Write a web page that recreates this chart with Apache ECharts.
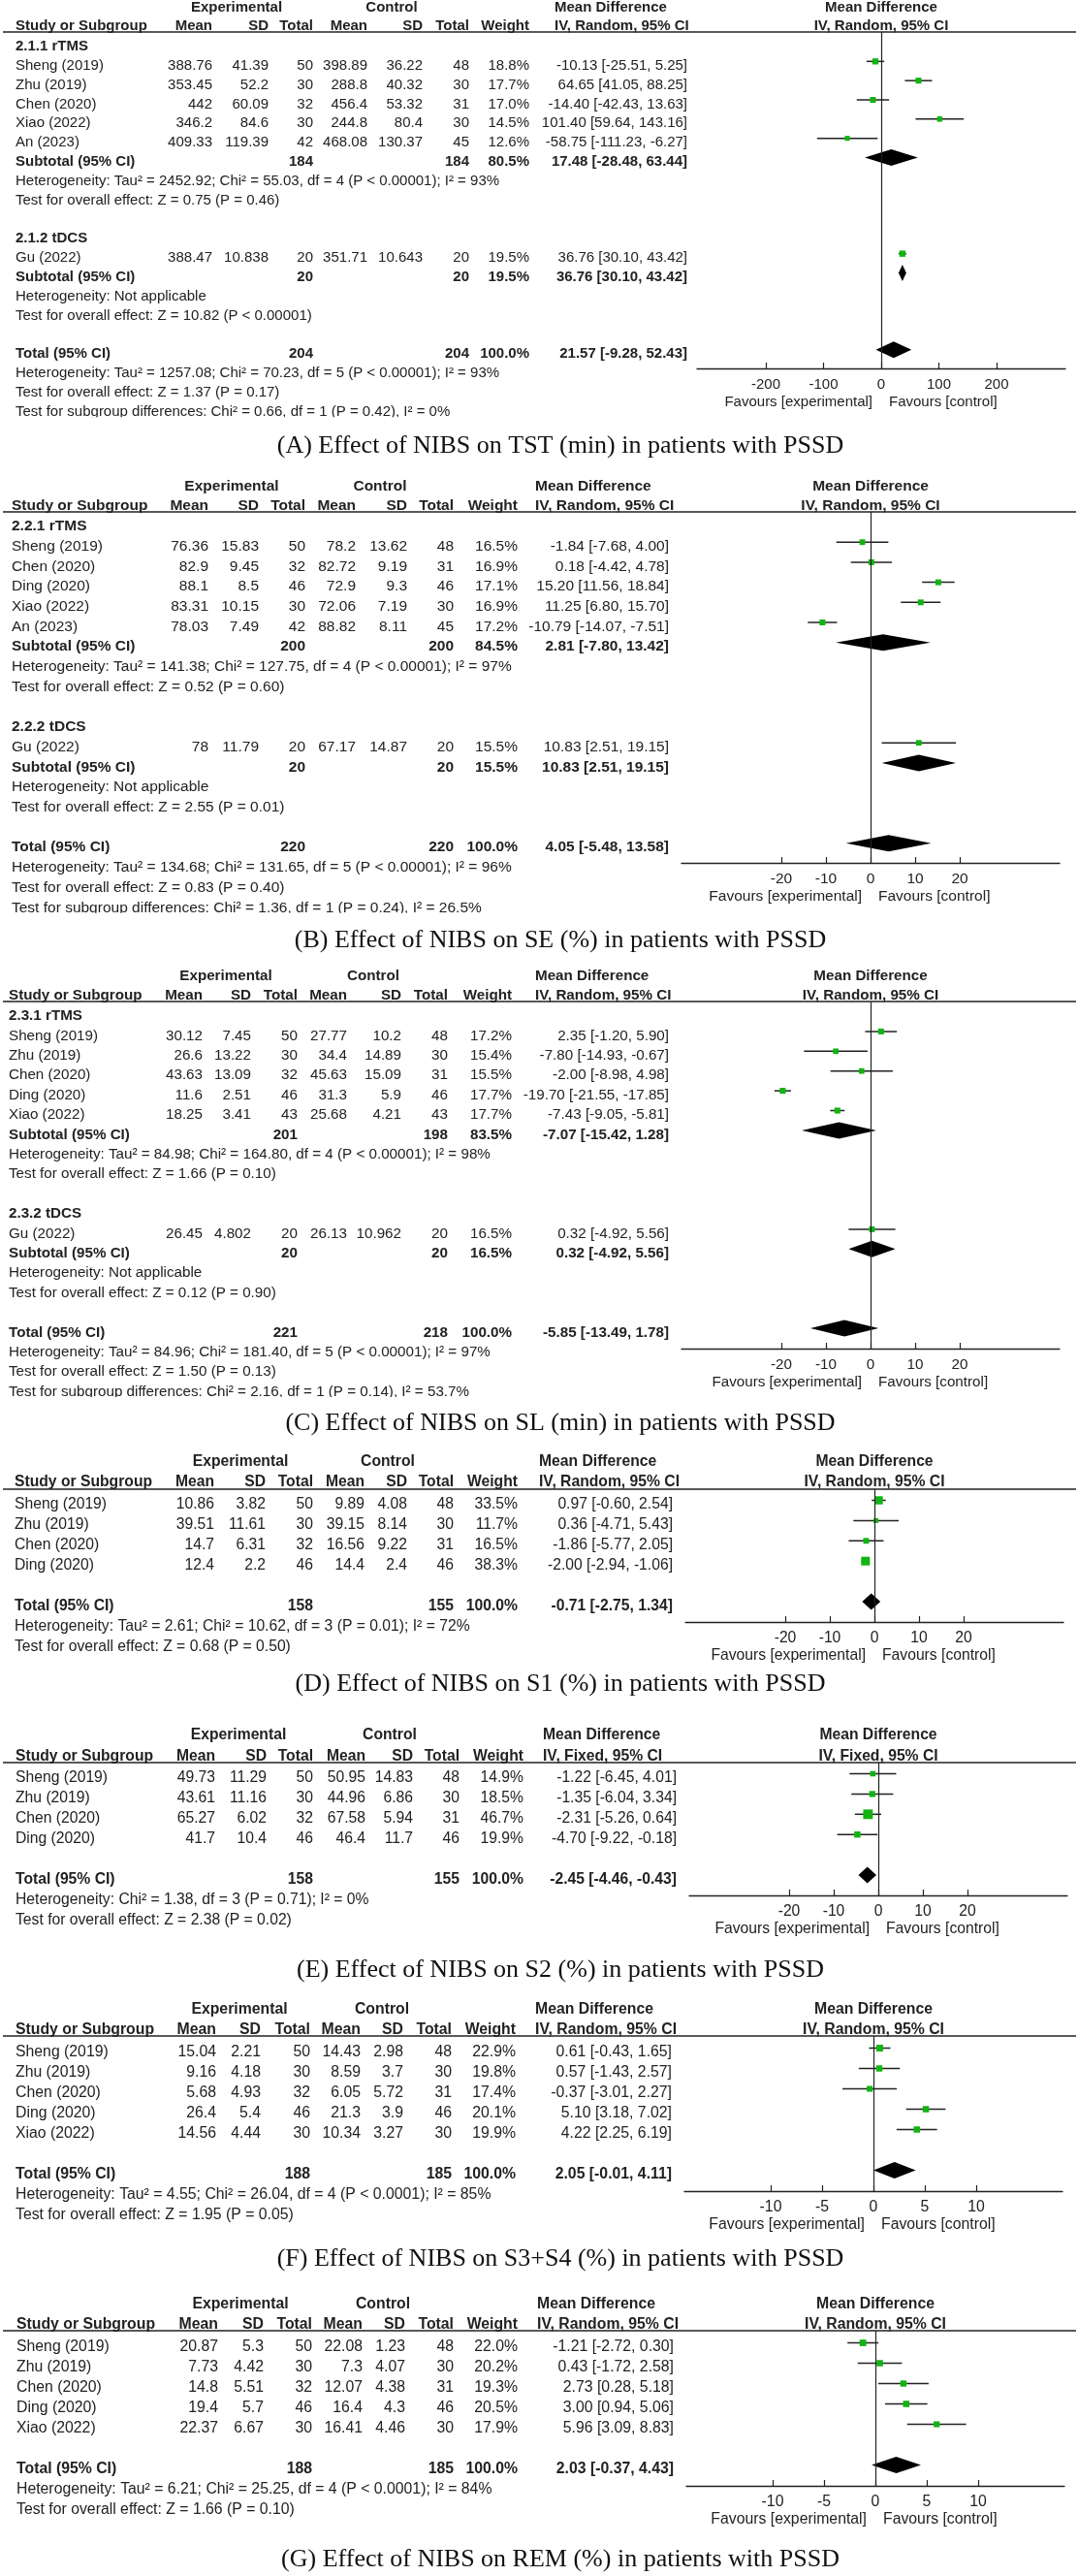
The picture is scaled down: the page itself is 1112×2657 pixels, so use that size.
<!DOCTYPE html>
<html>
<head>
<meta charset="utf-8">
<script src="https://cdn.jsdelivr.net/npm/echarts@6/dist/echarts.min.js"></script>
<style>
  html, body { margin: 0; padding: 0; background: #fff; }
  #main { width: 1112px; height: 2657px; }
</style>
</head>
<body>
<div id="main"></div>
<script>
// ---------- (A) TST ----------
var tstStudy = ['Sheng (2019)', 'Zhu (2019)', 'Chen (2020)', 'Xiao (2022)', 'An (2023)', 'Gu (2022)'];
var tstGroup = [0, 0, 0, 0, 0, 1];
var tstExpMean = [388.76, 353.45, 442, 346.2, 409.33, 388.47];
var tstExpSd = [41.39, 52.2, 60.09, 84.6, 119.39, 10.838];
var tstExpN = [50, 30, 32, 30, 42, 20];
var tstCtlMean = [398.89, 288.8, 456.4, 244.8, 468.08, 351.71];
var tstCtlSd = [36.22, 40.32, 53.32, 80.4, 130.37, 10.643];
var tstCtlN = [48, 30, 31, 30, 45, 20];
var tstWeight = [18.8, 17.7, 17.0, 14.5, 12.6, 19.5];
var tstMd = [-10.13, 64.65, -14.40, 101.40, -58.75, 36.76];
var tstLo = [-25.51, 41.05, -42.43, 59.64, -111.23, 30.10];
var tstHi = [5.25, 88.25, 13.63, 143.16, -6.27, 43.42];
var tstSubName = ['2.1.1 rTMS', '2.1.2 tDCS'];
var tstSubExpN = [184, 20];
var tstSubCtlN = [184, 20];
var tstSubWeight = [80.5, 19.5];
var tstSubMd = [17.48, 36.76];
var tstSubLo = [-28.48, 30.10];
var tstSubHi = [63.44, 43.42];
var tstSubHet = ['Heterogeneity: Tau² = 2452.92; Chi² = 55.03, df = 4 (P < 0.00001); I² = 93%', 'Heterogeneity: Not applicable'];
var tstSubTest = ['Test for overall effect: Z = 0.75 (P = 0.46)', 'Test for overall effect: Z = 10.82 (P < 0.00001)'];
var tstTotal = [21.57, -9.28, 52.43];
var tstTotalN = [204, 204];
var tstNotes = ['Heterogeneity: Tau² = 1257.08; Chi² = 70.23, df = 5 (P < 0.00001); I² = 93%',
  'Test for overall effect: Z = 1.37 (P = 0.17)',
  'Test for subgroup differences: Chi² = 0.66, df = 1 (P = 0.42), I² = 0%'];
var tstTicks = [-200, -100, 0, 100, 200];

// ---------- (B) SE ----------
var seStudy = ['Sheng (2019)', 'Chen (2020)', 'Ding (2020)', 'Xiao (2022)', 'An (2023)', 'Gu (2022)'];
var seGroup = [0, 0, 0, 0, 0, 1];
var seExpMean = [76.36, 82.9, 88.1, 83.31, 78.03, 78];
var seExpSd = [15.83, 9.45, 8.5, 10.15, 7.49, 11.79];
var seExpN = [50, 32, 46, 30, 42, 20];
var seCtlMean = [78.2, 82.72, 72.9, 72.06, 88.82, 67.17];
var seCtlSd = [13.62, 9.19, 9.3, 7.19, 8.11, 14.87];
var seCtlN = [48, 31, 46, 30, 45, 20];
var seWeight = [16.5, 16.9, 17.1, 16.9, 17.2, 15.5];
var seMd = [-1.84, 0.18, 15.20, 11.25, -10.79, 10.83];
var seLo = [-7.68, -4.42, 11.56, 6.80, -14.07, 2.51];
var seHi = [4.00, 4.78, 18.84, 15.70, -7.51, 19.15];
var seSubName = ['2.2.1 rTMS', '2.2.2 tDCS'];
var seSubExpN = [200, 20];
var seSubCtlN = [200, 20];
var seSubWeight = [84.5, 15.5];
var seSubMd = [2.81, 10.83];
var seSubLo = [-7.80, 2.51];
var seSubHi = [13.42, 19.15];
var seSubHet = ['Heterogeneity: Tau² = 141.38; Chi² = 127.75, df = 4 (P < 0.00001); I² = 97%', 'Heterogeneity: Not applicable'];
var seSubTest = ['Test for overall effect: Z = 0.52 (P = 0.60)', 'Test for overall effect: Z = 2.55 (P = 0.01)'];
var seTotal = [4.05, -5.48, 13.58];
var seTotalN = [220, 220];
var seNotes = ['Heterogeneity: Tau² = 134.68; Chi² = 131.65, df = 5 (P < 0.00001); I² = 96%',
  'Test for overall effect: Z = 0.83 (P = 0.40)',
  'Test for subgroup differences: Chi² = 1.36, df = 1 (P = 0.24), I² = 26.5%'];
var seTicks = [-20, -10, 0, 10, 20];

// ---------- (C) SL ----------
var slStudy = ['Sheng (2019)', 'Zhu (2019)', 'Chen (2020)', 'Ding (2020)', 'Xiao (2022)', 'Gu (2022)'];
var slGroup = [0, 0, 0, 0, 0, 1];
var slExpMean = [30.12, 26.6, 43.63, 11.6, 18.25, 26.45];
var slExpSd = [7.45, 13.22, 13.09, 2.51, 3.41, 4.802];
var slExpN = [50, 30, 32, 46, 43, 20];
var slCtlMean = [27.77, 34.4, 45.63, 31.3, 25.68, 26.13];
var slCtlSd = [10.2, 14.89, 15.09, 5.9, 4.21, 10.962];
var slCtlN = [48, 30, 31, 46, 43, 20];
var slWeight = [17.2, 15.4, 15.5, 17.7, 17.7, 16.5];
var slMd = [2.35, -7.80, -2.00, -19.70, -7.43, 0.32];
var slLo = [-1.20, -14.93, -8.98, -21.55, -9.05, -4.92];
var slHi = [5.90, -0.67, 4.98, -17.85, -5.81, 5.56];
var slSubName = ['2.3.1 rTMS', '2.3.2 tDCS'];
var slSubExpN = [201, 20];
var slSubCtlN = [198, 20];
var slSubWeight = [83.5, 16.5];
var slSubMd = [-7.07, 0.32];
var slSubLo = [-15.42, -4.92];
var slSubHi = [1.28, 5.56];
var slSubHet = ['Heterogeneity: Tau² = 84.98; Chi² = 164.80, df = 4 (P < 0.00001); I² = 98%', 'Heterogeneity: Not applicable'];
var slSubTest = ['Test for overall effect: Z = 1.66 (P = 0.10)', 'Test for overall effect: Z = 0.12 (P = 0.90)'];
var slTotal = [-5.85, -13.49, 1.78];
var slTotalN = [221, 218];
var slNotes = ['Heterogeneity: Tau² = 84.96; Chi² = 181.40, df = 5 (P < 0.00001); I² = 97%',
  'Test for overall effect: Z = 1.50 (P = 0.13)',
  'Test for subgroup differences: Chi² = 2.16, df = 1 (P = 0.14), I² = 53.7%'];
var slTicks = [-20, -10, 0, 10, 20];

// ---------- (D) S1 ----------
var s1Study = ['Sheng (2019)', 'Zhu (2019)', 'Chen (2020)', 'Ding (2020)'];
var s1ExpMean = [10.86, 39.51, 14.7, 12.4];
var s1ExpSd = [3.82, 11.61, 6.31, 2.2];
var s1ExpN = [50, 30, 32, 46];
var s1CtlMean = [9.89, 39.15, 16.56, 14.4];
var s1CtlSd = [4.08, 8.14, 9.22, 2.4];
var s1CtlN = [48, 30, 31, 46];
var s1Weight = [33.5, 11.7, 16.5, 38.3];
var s1Md = [0.97, 0.36, -1.86, -2.00];
var s1Lo = [-0.60, -4.71, -5.77, -2.94];
var s1Hi = [2.54, 5.43, 2.05, -1.06];
var s1Total = [-0.71, -2.75, 1.34];
var s1TotalN = [158, 155];
var s1Notes = ['Heterogeneity: Tau² = 2.61; Chi² = 10.62, df = 3 (P = 0.01); I² = 72%',
  'Test for overall effect: Z = 0.68 (P = 0.50)'];
var s1Ticks = [-20, -10, 0, 10, 20];

// ---------- (E) S2 ----------
var s2Study = ['Sheng (2019)', 'Zhu (2019)', 'Chen (2020)', 'Ding (2020)'];
var s2ExpMean = [49.73, 43.61, 65.27, 41.7];
var s2ExpSd = [11.29, 11.16, 6.02, 10.4];
var s2ExpN = [50, 30, 32, 46];
var s2CtlMean = [50.95, 44.96, 67.58, 46.4];
var s2CtlSd = [14.83, 6.86, 5.94, 11.7];
var s2CtlN = [48, 30, 31, 46];
var s2Weight = [14.9, 18.5, 46.7, 19.9];
var s2Md = [-1.22, -1.35, -2.31, -4.70];
var s2Lo = [-6.45, -6.04, -5.26, -9.22];
var s2Hi = [4.01, 3.34, 0.64, -0.18];
var s2Total = [-2.45, -4.46, -0.43];
var s2TotalN = [158, 155];
var s2Notes = ['Heterogeneity: Chi² = 1.38, df = 3 (P = 0.71); I² = 0%',
  'Test for overall effect: Z = 2.38 (P = 0.02)'];
var s2Ticks = [-20, -10, 0, 10, 20];

// ---------- (F) S3+S4 ----------
var s34Study = ['Sheng (2019)', 'Zhu (2019)', 'Chen (2020)', 'Ding (2020)', 'Xiao (2022)'];
var s34ExpMean = [15.04, 9.16, 5.68, 26.4, 14.56];
var s34ExpSd = [2.21, 4.18, 4.93, 5.4, 4.44];
var s34ExpN = [50, 30, 32, 46, 30];
var s34CtlMean = [14.43, 8.59, 6.05, 21.3, 10.34];
var s34CtlSd = [2.98, 3.7, 5.72, 3.9, 3.27];
var s34CtlN = [48, 30, 31, 46, 30];
var s34Weight = [22.9, 19.8, 17.4, 20.1, 19.9];
var s34Md = [0.61, 0.57, -0.37, 5.10, 4.22];
var s34Lo = [-0.43, -1.43, -3.01, 3.18, 2.25];
var s34Hi = [1.65, 2.57, 2.27, 7.02, 6.19];
var s34Total = [2.05, -0.01, 4.11];
var s34TotalN = [188, 185];
var s34Notes = ['Heterogeneity: Tau² = 4.55; Chi² = 26.04, df = 4 (P < 0.0001); I² = 85%',
  'Test for overall effect: Z = 1.95 (P = 0.05)'];
var s34Ticks = [-10, -5, 0, 5, 10];

// ---------- (G) REM ----------
var remStudy = ['Sheng (2019)', 'Zhu (2019)', 'Chen (2020)', 'Ding (2020)', 'Xiao (2022)'];
var remExpMean = [20.87, 7.73, 14.8, 19.4, 22.37];
var remExpSd = [5.3, 4.42, 5.51, 5.7, 6.67];
var remExpN = [50, 30, 32, 46, 30];
var remCtlMean = [22.08, 7.3, 12.07, 16.4, 16.41];
var remCtlSd = [1.23, 4.07, 4.38, 4.3, 4.46];
var remCtlN = [48, 30, 31, 46, 30];
var remWeight = [22.0, 20.2, 19.3, 20.5, 17.9];
var remMd = [-1.21, 0.43, 2.73, 3.00, 5.96];
var remLo = [-2.72, -1.72, 0.28, 0.94, 3.09];
var remHi = [0.30, 2.58, 5.18, 5.06, 8.83];
var remTotal = [2.03, -0.37, 4.43];
var remTotalN = [188, 185];
var remNotes = ['Heterogeneity: Tau² = 6.21; Chi² = 25.25, df = 4 (P < 0.0001); I² = 84%',
  'Test for overall effect: Z = 1.66 (P = 0.10)'];
var remTicks = [-10, -5, 0, 5, 10];

// ---------- page layout ----------
var SANS = '"Liberation Sans", Arial, sans-serif';
var SERIF = '"Liberation Serif", "Times New Roman", serif';
var INK = '#222';
var GREEN = '#12b312';

function pack(study, group, em, es, en, cm, cs, cn, w, md, lo, hi, sub, total, totalN, notes, ticks) {
  return { study: study, group: group, em: em, es: es, en: en, cm: cm, cs: cs, cn: cn, w: w,
    md: md, lo: lo, hi: hi, sub: sub, total: total, totalN: totalN, notes: notes, ticks: ticks };
}

var panels = [
  { d: pack(tstStudy, tstGroup, tstExpMean, tstExpSd, tstExpN, tstCtlMean, tstCtlSd, tstCtlN, tstWeight, tstMd, tstLo, tstHi,
      { name: tstSubName, en: tstSubExpN, cn: tstSubCtlN, w: tstSubWeight, md: tstSubMd, lo: tstSubLo, hi: tstSubHi, het: tstSubHet, test: tstSubTest },
      tstTotal, tstTotalN, tstNotes, tstTicks),
    caption: '(A) Effect of NIBS on TST (min) in patients with PSSD', method: 'IV, Random, 95% CI',
    font: 15, hdr1: 8, hdr2: 27, line: 33, row0: 48, step: 19.83, axisY: 380, capY: 460, clip: true,
    cols: [16, 219, 277, 323, 379, 436, 484, 546, 709], expC: 244, ctlC: 404, mdL: 572, zero: 909, ppu: 0.595, half: 190 },
  { d: pack(seStudy, seGroup, seExpMean, seExpSd, seExpN, seCtlMean, seCtlSd, seCtlN, seWeight, seMd, seLo, seHi,
      { name: seSubName, en: seSubExpN, cn: seSubCtlN, w: seSubWeight, md: seSubMd, lo: seSubLo, hi: seSubHi, het: seSubHet, test: seSubTest },
      seTotal, seTotalN, seNotes, seTicks),
    caption: '(B) Effect of NIBS on SE (%) in patients with PSSD', method: 'IV, Random, 95% CI',
    font: 15.5, hdr1: 502, hdr2: 522, line: 528, row0: 543, step: 20.7, axisY: 890, capY: 970, clip: true,
    cols: [12, 215, 267, 315, 367, 420, 468, 534, 690], expC: 239, ctlC: 392, mdL: 552, zero: 898, ppu: 4.6, half: 195 },
  { d: pack(slStudy, slGroup, slExpMean, slExpSd, slExpN, slCtlMean, slCtlSd, slCtlN, slWeight, slMd, slLo, slHi,
      { name: slSubName, en: slSubExpN, cn: slSubCtlN, w: slSubWeight, md: slSubMd, lo: slSubLo, hi: slSubHi, het: slSubHet, test: slSubTest },
      slTotal, slTotalN, slNotes, slTicks),
    caption: '(C) Effect of NIBS on SL (min) in patients with PSSD', method: 'IV, Random, 95% CI',
    font: 15.2, hdr1: 1007, hdr2: 1027, line: 1033, row0: 1048, step: 20.4, axisY: 1391, capY: 1468, clip: true,
    cols: [9, 209, 259, 307, 358, 414, 462, 528, 690], expC: 233, ctlC: 385, mdL: 552, zero: 898, ppu: 4.6, half: 195 },
  { d: pack(s1Study, null, s1ExpMean, s1ExpSd, s1ExpN, s1CtlMean, s1CtlSd, s1CtlN, s1Weight, s1Md, s1Lo, s1Hi,
      null, s1Total, s1TotalN, s1Notes, s1Ticks),
    caption: '(D) Effect of NIBS on S1 (%) in patients with PSSD', method: 'IV, Random, 95% CI',
    font: 15.7, hdr1: 1508, hdr2: 1529, line: 1536, row0: 1552, step: 20.9, axisY: 1673, capY: 1737, clip: false,
    cols: [15, 221, 274, 323, 376, 420, 468, 534, 694], expC: 248, ctlC: 400, mdL: 556, zero: 902, ppu: 4.6, half: 195 },
  { d: pack(s2Study, null, s2ExpMean, s2ExpSd, s2ExpN, s2CtlMean, s2CtlSd, s2CtlN, s2Weight, s2Md, s2Lo, s2Hi,
      null, s2Total, s2TotalN, s2Notes, s2Ticks),
    caption: '(E) Effect of NIBS on S2 (%) in patients with PSSD', method: 'IV, Fixed, 95% CI',
    font: 15.7, hdr1: 1790, hdr2: 1812, line: 1818, row0: 1834, step: 20.9, axisY: 1955, capY: 2032, clip: false,
    cols: [16, 222, 275, 323, 377, 426, 474, 540, 698], expC: 246, ctlC: 402, mdL: 560, zero: 906, ppu: 4.6, half: 195 },
  { d: pack(s34Study, null, s34ExpMean, s34ExpSd, s34ExpN, s34CtlMean, s34CtlSd, s34CtlN, s34Weight, s34Md, s34Lo, s34Hi,
      null, s34Total, s34TotalN, s34Notes, s34Ticks),
    caption: '(F) Effect of NIBS on S3+S4 (%) in patients with PSSD', method: 'IV, Random, 95% CI',
    font: 15.8, hdr1: 2073, hdr2: 2094, line: 2100, row0: 2117, step: 21.0, axisY: 2260, capY: 2330, clip: false,
    cols: [16, 223, 269, 320, 372, 416, 466, 532, 693], expC: 247, ctlC: 394, mdL: 552, zero: 901, ppu: 10.6, half: 195 },
  { d: pack(remStudy, null, remExpMean, remExpSd, remExpN, remCtlMean, remCtlSd, remCtlN, remWeight, remMd, remLo, remHi,
      null, remTotal, remTotalN, remNotes, remTicks),
    caption: '(G) Effect of NIBS on REM (%) in patients with PSSD', method: 'IV, Random, 95% CI',
    font: 15.8, hdr1: 2377, hdr2: 2398, line: 2404, row0: 2421, step: 21.0, axisY: 2564, capY: 2640, clip: false,
    cols: [17, 225, 272, 322, 374, 418, 468, 534, 695], expC: 248, ctlC: 395, mdL: 554, zero: 903, ppu: 10.6, half: 195 }
];

function ci(m, l, h) { return m.toFixed(2) + ' [' + l.toFixed(2) + ', ' + h.toFixed(2) + ']'; }
function pct(w) { return w.toFixed(1) + '%'; }

function buildRows(d) {
  var rows = [];
  if (d.sub) {
    d.sub.name.forEach(function (name, g) {
      rows.push({ kind: 'label', text: name });
      d.study.forEach(function (s, i) { if (d.group[i] === g) rows.push({ kind: 'study', i: i }); });
      rows.push({ kind: 'sub', g: g });
      rows.push({ kind: 'note', text: d.sub.het[g] });
      rows.push({ kind: 'note', text: d.sub.test[g] });
      rows.push({ kind: 'blank' });
    });
  } else {
    d.study.forEach(function (s, i) { rows.push({ kind: 'study', i: i }); });
    rows.push({ kind: 'blank' });
  }
  rows.push({ kind: 'total' });
  d.notes.forEach(function (t) { rows.push({ kind: 'note', text: t }); });
  return rows;
}

var graphics = [];
var grids = [], xAxes = [], yAxes = [], series = [];

function txt(text, x, y, size, align, bold, family, color) {
  graphics.push({
    type: 'text', silent: true, z: 10,
    style: {
      text: text, x: x, y: y, fill: color || INK,
      font: (bold ? 'bold ' : '') + size + 'px ' + (family || SANS),
      textAlign: align, align: align, textVerticalAlign: 'middle', verticalAlign: 'middle'
    }
  });
}

panels.forEach(function (p, k) {
  var d = p.d, c = p.cols, f = p.font;
  var rows = buildRows(d);
  var rowY = function (r) { return p.row0 + r * p.step; };

  // table header
  txt('Experimental', p.expC, p.hdr1, f, 'center', true);
  txt('Control', p.ctlC, p.hdr1, f, 'center', true);
  txt('Mean Difference', p.mdL, p.hdr1, f, 'left', true);
  txt('Mean Difference', p.zero, p.hdr1, f, 'center', true);
  txt('Study or Subgroup', c[0], p.hdr2, f, 'left', true);
  ['Mean', 'SD', 'Total', 'Mean', 'SD', 'Total', 'Weight'].forEach(function (h, j) {
    txt(h, c[j + 1], p.hdr2, f, 'right', true);
  });
  txt(p.method, p.mdL, p.hdr2, f, 'left', true);
  txt(p.method, p.zero, p.hdr2, f, 'center', true);
  graphics.push({ type: 'line', silent: true, z: 5,
    shape: { x1: 3, y1: p.line, x2: 1110, y2: p.line }, style: { stroke: INK, lineWidth: 1.5 } });

  var studyData = [], diamondData = [];
  rows.forEach(function (row, r) {
    var y = rowY(r);
    if (row.kind === 'label') {
      txt(row.text, c[0], y, f, 'left', true);
    } else if (row.kind === 'note') {
      txt(row.text, c[0], y, f, 'left', false);
    } else if (row.kind === 'study') {
      var i = row.i;
      var vals = [String(d.em[i]), String(d.es[i]), String(d.en[i]), String(d.cm[i]), String(d.cs[i]), String(d.cn[i]), pct(d.w[i]), ci(d.md[i], d.lo[i], d.hi[i])];
      txt(d.study[i], c[0], y, f, 'left', false);
      vals.forEach(function (v, j) { txt(v, c[j + 1], y, f, 'right', false); });
      studyData.push([d.md[i], d.lo[i], d.hi[i], r, d.w[i]]);
    } else if (row.kind === 'sub') {
      var g = row.g, s = d.sub;
      txt('Subtotal (95% CI)', c[0], y, f, 'left', true);
      txt(String(s.en[g]), c[3], y, f, 'right', true);
      txt(String(s.cn[g]), c[6], y, f, 'right', true);
      txt(pct(s.w[g]), c[7], y, f, 'right', true);
      txt(ci(s.md[g], s.lo[g], s.hi[g]), c[8], y, f, 'right', true);
      diamondData.push([s.md[g], s.lo[g], s.hi[g], r]);
    } else if (row.kind === 'total') {
      txt('Total (95% CI)', c[0], y, f, 'left', true);
      txt(String(d.totalN[0]), c[3], y, f, 'right', true);
      txt(String(d.totalN[1]), c[6], y, f, 'right', true);
      txt(pct(100), c[7], y, f, 'right', true);
      txt(ci(d.total[0], d.total[1], d.total[2]), c[8], y, f, 'right', true);
      diamondData.push([d.total[0], d.total[1], d.total[2], r]);
    }
  });

  if (p.clip) {
    var yl = rowY(rows.length - 1) + 5.5;
    graphics.push({ type: 'rect', silent: true, z: 20,
      shape: { x: 0, y: yl, width: 720, height: 12 }, style: { fill: '#fff' } });
  }

  // favours labels + caption
  txt('Favours [experimental]', p.zero - 9, p.axisY + 35, f, 'right', false);
  txt('Favours [control]', p.zero + 8, p.axisY + 35, f, 'left', false);
  txt(p.caption, 578, p.capY, 26, 'center', false, SERIF, '#111');

  // forest grid: x in effect units, y in row units
  var axL = p.zero - p.half, axR = p.zero + p.half;
  grids.push({ left: axL, top: p.line, width: axR - axL, height: p.axisY - p.line,
    containLabel: false, outerBoundsMode: 'none' });
  xAxes.push({
    gridIndex: k, type: 'value',
    min: (axL - p.zero) / p.ppu, max: (axR - p.zero) / p.ppu,
    axisLine: { show: true, onZero: false, lineStyle: { color: INK, width: 1.3 } },
    axisTick: { show: true, inside: true, length: 6, customValues: d.ticks, lineStyle: { color: INK, width: 1.2 } },
    axisLabel: { customValues: d.ticks, margin: 9, fontFamily: SANS, fontSize: f, color: INK },
    splitLine: { show: false }
  });
  yAxes.push({
    gridIndex: k, type: 'value', inverse: true, show: false,
    min: (p.line - p.row0) / p.step, max: (p.axisY - p.row0) / p.step
  });

  var lift = 4.5 / p.step;
  series.push({
    type: 'custom', xAxisIndex: k, yAxisIndex: k, data: studyData, silent: true, z: 3,
    renderItem: function (params, api) {
      var row = api.value(3) - lift;
      var m = api.coord([api.value(0), row]);
      var l = api.coord([api.value(1), row]);
      var h = api.coord([api.value(2), row]);
      var s = 1.45 * Math.sqrt(api.value(4));
      return { type: 'group', children: [
        { type: 'line', shape: { x1: l[0], y1: m[1], x2: h[0], y2: m[1] }, style: { stroke: INK, lineWidth: 1.5 } },
        { type: 'rect', shape: { x: m[0] - s / 2, y: m[1] - s / 2, width: s, height: s }, style: { fill: GREEN } }
      ] };
    },
    markLine: {
      silent: true, symbol: 'none', label: { show: false }, animation: false,
      lineStyle: { color: INK, width: 1.2, type: 'solid' },
      data: [{ xAxis: 0 }]
    }
  });
  series.push({
    type: 'custom', xAxisIndex: k, yAxisIndex: k, data: diamondData, silent: true, z: 4,
    renderItem: function (params, api) {
      var row = api.value(3) - lift;
      var m = api.coord([api.value(0), row]);
      var l = api.coord([api.value(1), row]);
      var h = api.coord([api.value(2), row]);
      return { type: 'polygon',
        shape: { points: [[l[0], m[1]], [m[0], m[1] - 8.5], [h[0], m[1]], [m[0], m[1] + 8.5]] },
        style: { fill: '#000' } };
    }
  });
});

var chart = echarts.init(document.getElementById('main'), null, { renderer: 'canvas' });
chart.setOption({
  animation: false,
  backgroundColor: '#fff',
  grid: grids,
  xAxis: xAxes,
  yAxis: yAxes,
  series: series,
  graphic: { elements: graphics }
});
</script>
</body>
</html>
